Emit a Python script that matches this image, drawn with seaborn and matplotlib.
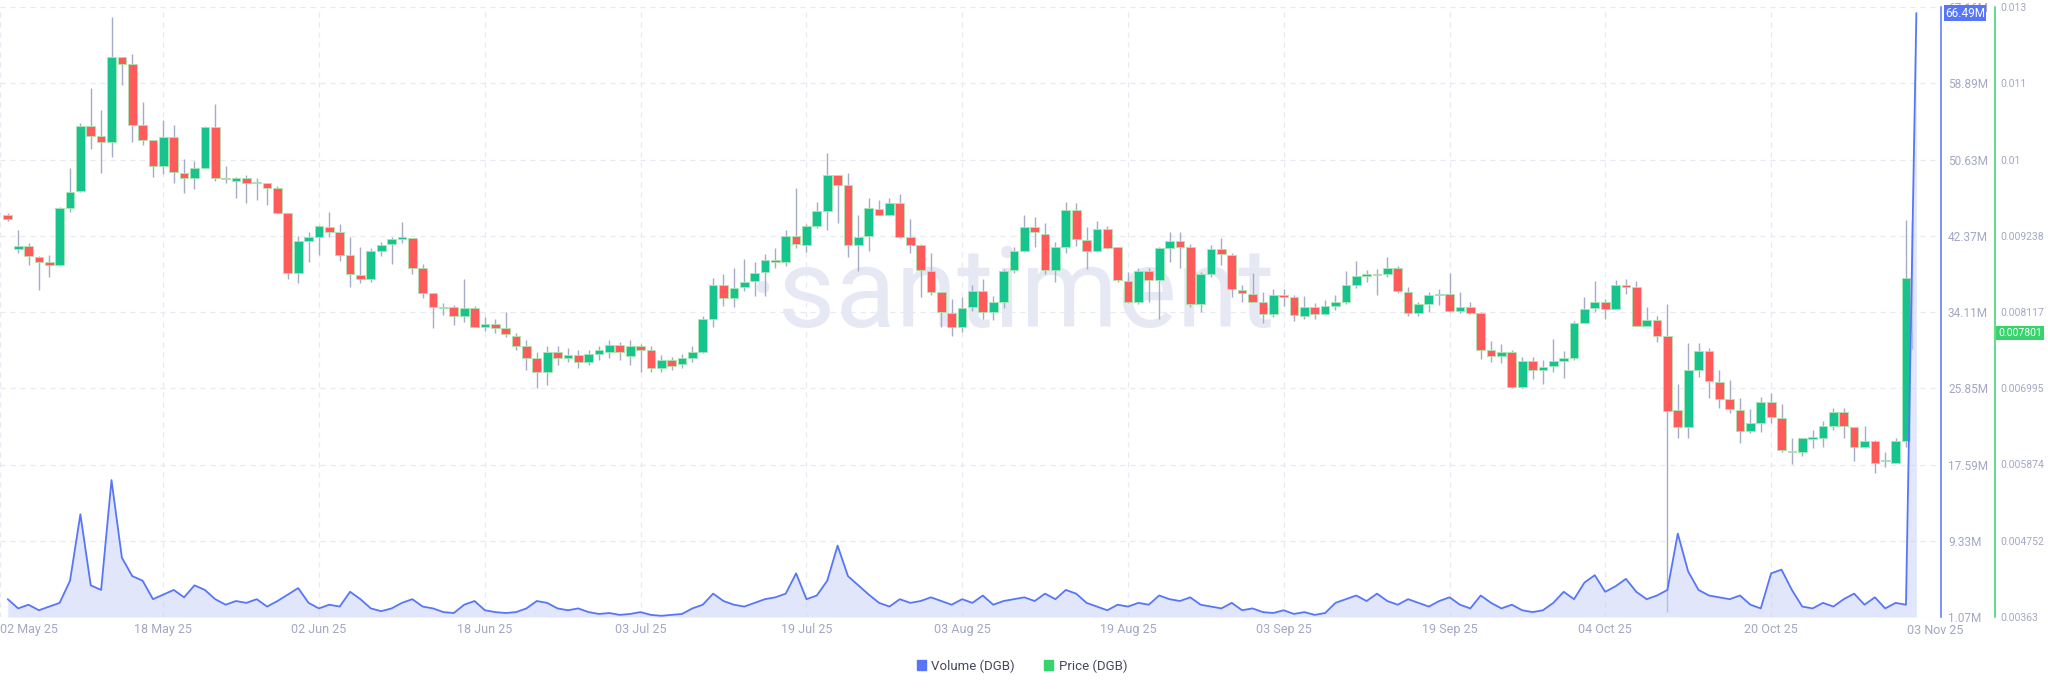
import numpy as np
import pandas as pd
import matplotlib
matplotlib.use("Agg")
import matplotlib.pyplot as plt
import matplotlib.dates as mdates
from matplotlib.patches import Patch
import seaborn as sns

# ------------------------------------------------------------
# data: DGB daily candles 03 May 25 .. 02 Nov 25, daily volume
# ------------------------------------------------------------
candle_dates = pd.date_range("2025-05-03", "2025-11-02", freq="D")

open_ = [
    0.00954, 0.00904, 0.00908, 0.00892, 0.00885, 0.00880, 0.00964, 0.00989, 0.01085, 0.01071,
    0.01061, 0.01186, 0.01176, 0.01086, 0.01064, 0.01027, 0.01069, 0.01016, 0.01008, 0.01024,
    0.01083, 0.01008, 0.01005, 0.01008, 0.01001, 0.01002, 0.00994, 0.00957, 0.00869, 0.00916,
    0.00922, 0.00936, 0.00929, 0.00895, 0.00866, 0.00860, 0.00901, 0.00911, 0.00919, 0.00920,
    0.00876, 0.00839, 0.00817, 0.00819, 0.00805, 0.00817, 0.00789, 0.00794, 0.00788, 0.00777,
    0.00761, 0.00744, 0.00723, 0.00753, 0.00744, 0.00748, 0.00738, 0.00750, 0.00753, 0.00763,
    0.00747, 0.00761, 0.00755, 0.00729, 0.00741, 0.00735, 0.00744, 0.00753, 0.00802, 0.00852,
    0.00832, 0.00848, 0.00857, 0.00870, 0.00888, 0.00885, 0.00923, 0.00910, 0.00938, 0.00960,
    0.01013, 0.00998, 0.00910, 0.00923, 0.00963, 0.00955, 0.00972, 0.00922, 0.00910, 0.00872,
    0.00841, 0.00810, 0.00789, 0.00819, 0.00842, 0.00811, 0.00827, 0.00873, 0.00901, 0.00936,
    0.00927, 0.00873, 0.00907, 0.00961, 0.00917, 0.00902, 0.00933, 0.00907, 0.00857, 0.00826,
    0.00872, 0.00858, 0.00905, 0.00916, 0.00907, 0.00823, 0.00867, 0.00904, 0.00895, 0.00844,
    0.00838, 0.00826, 0.00808, 0.00836, 0.00833, 0.00805, 0.00819, 0.00808, 0.00820, 0.00826,
    0.00851, 0.00864, 0.00867, 0.00867, 0.00877, 0.00841, 0.00810, 0.00823, 0.00836, 0.00838,
    0.00813, 0.00819, 0.00810, 0.00755, 0.00747, 0.00753, 0.00701, 0.00739, 0.00726, 0.00732,
    0.00739, 0.00744, 0.00795, 0.00817, 0.00826, 0.00816, 0.00852, 0.00848, 0.00791, 0.00800,
    0.00777, 0.00667, 0.00642, 0.00727, 0.00754, 0.00708, 0.00683, 0.00667, 0.00636, 0.00648,
    0.00679, 0.00655, 0.00607, 0.00605, 0.00625, 0.00626, 0.00644, 0.00664, 0.00642, 0.00613,
    0.00622, 0.00592, 0.00589, 0.00622,
]
high = [
    0.00957, 0.00932, 0.00913, 0.00894, 0.00895, 0.00966, 0.01024, 0.01089, 0.01141, 0.01108,
    0.01246, 0.01186, 0.01191, 0.01120, 0.01064, 0.01094, 0.01086, 0.01036, 0.01033, 0.01085,
    0.01117, 0.01026, 0.01010, 0.01013, 0.01008, 0.01002, 0.00997, 0.00957, 0.00923, 0.00930,
    0.00939, 0.00958, 0.00941, 0.00922, 0.00907, 0.00905, 0.00914, 0.00922, 0.00944, 0.00920,
    0.00882, 0.00839, 0.00825, 0.00822, 0.00860, 0.00820, 0.00804, 0.00801, 0.00811, 0.00780,
    0.00770, 0.00753, 0.00761, 0.00761, 0.00758, 0.00755, 0.00755, 0.00761, 0.00770, 0.00767,
    0.00770, 0.00764, 0.00761, 0.00748, 0.00745, 0.00750, 0.00761, 0.00805, 0.00861, 0.00867,
    0.00877, 0.00889, 0.00885, 0.00897, 0.00905, 0.00932, 0.00994, 0.00941, 0.00974, 0.01045,
    0.01013, 0.01016, 0.00955, 0.00980, 0.00977, 0.00980, 0.00985, 0.00948, 0.00911, 0.00898,
    0.00841, 0.00830, 0.00833, 0.00851, 0.00860, 0.00835, 0.00875, 0.00907, 0.00955, 0.00952,
    0.00942, 0.00914, 0.00974, 0.00972, 0.00936, 0.00945, 0.00938, 0.00907, 0.00870, 0.00877,
    0.00877, 0.00907, 0.00929, 0.00929, 0.00911, 0.00870, 0.00910, 0.00920, 0.00898, 0.00851,
    0.00869, 0.00841, 0.00845, 0.00845, 0.00836, 0.00835, 0.00825, 0.00829, 0.00836, 0.00872,
    0.00886, 0.00873, 0.00875, 0.00892, 0.00879, 0.00848, 0.00827, 0.00841, 0.00845, 0.00869,
    0.00841, 0.00827, 0.00811, 0.00769, 0.00764, 0.00755, 0.00745, 0.00745, 0.00741, 0.00772,
    0.00754, 0.00798, 0.00833, 0.00857, 0.00830, 0.00858, 0.00860, 0.00857, 0.00819, 0.00805,
    0.00823, 0.00705, 0.00766, 0.00766, 0.00758, 0.00726, 0.00711, 0.00685, 0.00669, 0.00686,
    0.00692, 0.00676, 0.00627, 0.00626, 0.00638, 0.00651, 0.00670, 0.00670, 0.00642, 0.00644,
    0.00623, 0.00605, 0.00627, 0.00947,
]
low = [
    0.00945, 0.00898, 0.00880, 0.00844, 0.00863, 0.00879, 0.00958, 0.00988, 0.01051, 0.01016,
    0.01039, 0.01145, 0.01061, 0.01057, 0.01010, 0.01014, 0.01001, 0.00986, 0.00992, 0.01024,
    0.01004, 0.01002, 0.00980, 0.00972, 0.00977, 0.00969, 0.00957, 0.00860, 0.00854, 0.00885,
    0.00895, 0.00922, 0.00886, 0.00848, 0.00854, 0.00855, 0.00894, 0.00882, 0.00913, 0.00867,
    0.00832, 0.00788, 0.00807, 0.00792, 0.00797, 0.00789, 0.00783, 0.00780, 0.00775, 0.00755,
    0.00726, 0.00700, 0.00704, 0.00733, 0.00738, 0.00729, 0.00733, 0.00741, 0.00744, 0.00741,
    0.00733, 0.00723, 0.00723, 0.00723, 0.00726, 0.00729, 0.00738, 0.00751, 0.00789, 0.00820,
    0.00819, 0.00842, 0.00835, 0.00835, 0.00877, 0.00879, 0.00905, 0.00900, 0.00935, 0.00932,
    0.00942, 0.00892, 0.00872, 0.00901, 0.00954, 0.00954, 0.00920, 0.00898, 0.00833, 0.00836,
    0.00789, 0.00777, 0.00782, 0.00813, 0.00802, 0.00800, 0.00817, 0.00869, 0.00900, 0.00907,
    0.00867, 0.00855, 0.00898, 0.00908, 0.00875, 0.00900, 0.00904, 0.00855, 0.00825, 0.00823,
    0.00827, 0.00802, 0.00885, 0.00876, 0.00819, 0.00811, 0.00863, 0.00880, 0.00833, 0.00827,
    0.00826, 0.00795, 0.00804, 0.00820, 0.00798, 0.00801, 0.00802, 0.00807, 0.00814, 0.00823,
    0.00847, 0.00855, 0.00836, 0.00863, 0.00839, 0.00805, 0.00805, 0.00811, 0.00822, 0.00811,
    0.00810, 0.00808, 0.00742, 0.00738, 0.00736, 0.00700, 0.00700, 0.00713, 0.00705, 0.00723,
    0.00714, 0.00741, 0.00795, 0.00811, 0.00802, 0.00816, 0.00838, 0.00791, 0.00791, 0.00767,
    0.00370, 0.00627, 0.00627, 0.00716, 0.00685, 0.00670, 0.00663, 0.00619, 0.00633, 0.00635,
    0.00648, 0.00605, 0.00588, 0.00600, 0.00611, 0.00613, 0.00638, 0.00626, 0.00592, 0.00611,
    0.00575, 0.00583, 0.00589, 0.00613,
]
close = [
    0.00948, 0.00908, 0.00894, 0.00885, 0.00880, 0.00964, 0.00988, 0.01085, 0.01071, 0.01061,
    0.01186, 0.01177, 0.01086, 0.01064, 0.01027, 0.01069, 0.01017, 0.01008, 0.01024, 0.01083,
    0.01008, 0.01007, 0.01008, 0.01002, 0.01002, 0.00994, 0.00957, 0.00869, 0.00916, 0.00922,
    0.00938, 0.00929, 0.00895, 0.00867, 0.00860, 0.00901, 0.00910, 0.00919, 0.00920, 0.00876,
    0.00839, 0.00819, 0.00819, 0.00805, 0.00817, 0.00789, 0.00794, 0.00788, 0.00779, 0.00761,
    0.00744, 0.00723, 0.00753, 0.00744, 0.00748, 0.00738, 0.00750, 0.00755, 0.00763, 0.00753,
    0.00761, 0.00755, 0.00729, 0.00741, 0.00732, 0.00744, 0.00753, 0.00802, 0.00852, 0.00832,
    0.00847, 0.00855, 0.00869, 0.00888, 0.00885, 0.00923, 0.00911, 0.00938, 0.00960, 0.01013,
    0.00999, 0.00910, 0.00922, 0.00964, 0.00955, 0.00972, 0.00922, 0.00910, 0.00873, 0.00841,
    0.00811, 0.00789, 0.00817, 0.00842, 0.00811, 0.00827, 0.00872, 0.00901, 0.00936, 0.00929,
    0.00873, 0.00907, 0.00961, 0.00919, 0.00902, 0.00933, 0.00905, 0.00858, 0.00826, 0.00872,
    0.00858, 0.00905, 0.00916, 0.00907, 0.00823, 0.00867, 0.00904, 0.00897, 0.00845, 0.00839,
    0.00827, 0.00808, 0.00836, 0.00833, 0.00807, 0.00819, 0.00808, 0.00820, 0.00826, 0.00851,
    0.00864, 0.00867, 0.00866, 0.00877, 0.00842, 0.00810, 0.00823, 0.00836, 0.00838, 0.00813,
    0.00819, 0.00810, 0.00755, 0.00747, 0.00753, 0.00701, 0.00739, 0.00727, 0.00730, 0.00739,
    0.00744, 0.00795, 0.00816, 0.00826, 0.00816, 0.00852, 0.00848, 0.00791, 0.00800, 0.00777,
    0.00666, 0.00642, 0.00727, 0.00754, 0.00710, 0.00683, 0.00669, 0.00636, 0.00648, 0.00679,
    0.00657, 0.00608, 0.00605, 0.00626, 0.00626, 0.00644, 0.00664, 0.00644, 0.00613, 0.00622,
    0.00589, 0.00594, 0.00622, 0.00861,
]

# unfinished candle of the current day
live_time = pd.Timestamp("2025-11-02 13:00")
live_ohlc = [0.00861, 0.00947, 0.00757, 0.007801]

# daily volume in millions, 03 May 25 .. 03 Nov 25
volume_dates = pd.date_range("2025-05-03", "2025-11-03", freq="D")
volume = [
    3.0, 2.0, 2.4, 1.8, 2.2, 2.6, 5.0, 12.2, 4.5, 4.0,
    15.9, 7.5, 5.5, 5.0, 3.0, 3.5, 4.0, 3.2, 4.5, 4.0,
    3.0, 2.4, 2.8, 2.6, 3.0, 2.2, 2.8, 3.5, 4.2, 2.6,
    2.0, 2.4, 2.2, 3.8, 3.0, 2.0, 1.7, 2.0, 2.6, 3.0,
    2.2, 2.0, 1.6, 1.5, 2.4, 2.8, 1.8, 1.6, 1.5, 1.6,
    2.0, 2.8, 2.6, 2.0, 1.8, 2.0, 1.6, 1.4, 1.5, 1.3,
    1.4, 1.6, 1.3, 1.2, 1.3, 1.4, 2.0, 2.4, 3.6, 2.8,
    2.4, 2.2, 2.6, 3.0, 3.2, 3.6, 5.8, 3.0, 3.4, 5.0,
    8.8, 5.5, 4.5, 3.5, 2.6, 2.2, 3.0, 2.6, 2.8, 3.2,
    2.8, 2.4, 3.0, 2.6, 3.4, 2.4, 2.8, 3.0, 3.2, 2.8,
    3.6, 3.0, 4.0, 3.6, 2.6, 2.2, 1.8, 2.4, 2.2, 2.6,
    2.4, 3.4, 3.0, 2.8, 3.2, 2.4, 2.2, 2.0, 2.6, 1.8,
    2.0, 1.6, 1.5, 1.8, 1.4, 1.6, 1.3, 1.5, 2.6, 3.0,
    3.4, 2.8, 3.6, 2.8, 2.4, 3.0, 2.6, 2.2, 2.8, 3.2,
    2.4, 2.0, 3.4, 2.6, 2.0, 2.4, 1.8, 1.6, 1.8, 2.6,
    3.8, 3.0, 4.8, 5.6, 3.8, 4.4, 5.2, 3.8, 3.0, 3.4,
    4.0, 10.1, 6.0, 4.0, 3.4, 3.2, 3.0, 3.4, 2.4, 2.0,
    5.8, 6.2, 4.0, 2.2, 2.0, 2.6, 2.2, 3.0, 3.6, 2.4,
    3.2, 2.0, 2.6, 2.4, 66.49,
]

price_ticks = [0.00363, 0.0047515, 0.005873, 0.0069945, 0.008116, 0.0092375, 0.010359, 0.0114805, 0.012602]
price_labels = ["0.00363", "0.004752", "0.005874", "0.006995", "0.008117", "0.009238", "0.01", "0.011", "0.013"]
volume_ticks = [1.07, 9.33, 17.59, 25.85, 34.11, 42.37, 50.63, 58.89, 67.15]
volume_labels = ["1.07M", "9.33M", "17.59M", "25.85M", "34.11M", "42.37M", "50.63M", "58.89M", "67.16M"]
date_ticks = ["2025-05-18", "2025-06-02", "2025-06-18", "2025-07-03", "2025-07-19", "2025-08-03",
              "2025-08-19", "2025-09-03", "2025-09-19", "2025-10-04", "2025-10-20"]
date_labels = ["18 May 25", "02 Jun 25", "18 Jun 25", "03 Jul 25", "19 Jul 25", "03 Aug 25",
               "19 Aug 25", "03 Sep 25", "19 Sep 25", "04 Oct 25", "20 Oct 25"]
last_price = 0.007801
last_volume = 66.49

# ------------------------------------------------------------
# style
# ------------------------------------------------------------
sns.set_theme(style="white")
plt.rcParams["font.family"] = ["Roboto", "DejaVu Sans"]

GREEN = "#17c48e"
RED = "#ff5b5b"
EDGE = "#a9e6b3"
WICK = "#a6abc8"
BLUE = "#5776f7"
LINE_GREEN = "#37d36b"
TICK = "#a3a8c3"
GRID = "#e7e9f2"

fig = plt.figure(figsize=(20.48, 6.93), dpi=100)
ax = fig.add_axes([0, 76 / 693, 1941 / 2048, 610 / 693])
ax_vol = ax.twinx()

x0 = mdates.date2num(pd.Timestamp("2025-05-02 06:00"))
x1 = mdates.date2num(pd.Timestamp("2025-11-05 09:00"))

# ---- candles ----
cx = mdates.date2num(candle_dates)
o = np.array(open_)
h = np.array(high)
l = np.array(low)
c = np.array(close)
up = c >= o
body_lo = np.minimum(o, c)
body_h = np.maximum(np.abs(c - o), 2.2e-5)

ax.vlines(cx, l, h, color=WICK, lw=1.0, zorder=2)
ax.bar(cx, body_h, bottom=body_lo, width=0.84, color=np.where(up, GREEN, RED),
       edgecolor=EDGE, linewidth=0.6, zorder=3)

lx = mdates.date2num(live_time)
ax.vlines(lx, live_ohlc[2], live_ohlc[1], color=WICK, lw=1.0, zorder=2)
ax.bar(lx, live_ohlc[0] - live_ohlc[3], bottom=live_ohlc[3], width=0.25,
       color="#b8c8bb", edgecolor="none", zorder=3)

# ---- volume ----
vx = mdates.date2num(volume_dates)
ax_vol.fill_between(vx, volume, 1.07, color="#c5cff9", alpha=0.5, lw=0, zorder=1)
sns.lineplot(x=vx, y=volume, ax=ax_vol, color=BLUE, lw=1.3, zorder=4)
ax_vol.set_xlabel("")
ax_vol.set_ylabel("")

# ---- axes limits / ticks ----
ax.set_xlim(x0, x1)
ax.set_ylim(price_ticks[0], price_ticks[-1])
ax_vol.set_ylim(volume_ticks[0], volume_ticks[-1])

ax.yaxis.tick_right()
ax.set_yticks(price_ticks, labels=price_labels)
ax_vol.set_yticks(volume_ticks, labels=volume_labels)

xt = [x0] + list(mdates.date2num(pd.to_datetime(date_ticks)))
ax.set_xticks(xt, labels=["02 May 25"] + date_labels)

for a in (ax, ax_vol):
    for s in a.spines.values():
        s.set_visible(False)
    a.tick_params(length=0, labelcolor=TICK)

ax.tick_params(axis="x", pad=4, labelsize=9)
ax.tick_params(axis="y", pad=4, labelsize=7.5)
ax_vol.tick_params(axis="y", pad=5, labelsize=8.5)
ax.spines["right"].set_visible(True)
ax.spines["right"].set_position(("outward", 54 * 0.72))
ax.spines["right"].set_color(LINE_GREEN)
ax.spines["right"].set_linewidth(1.1)
ax_vol.spines["right"].set_visible(True)
ax_vol.spines["right"].set_color(BLUE)
ax_vol.spines["right"].set_linewidth(1.1)

# first x label kept inside the frame, as the source does
ax.get_xticklabels()[0].set_horizontalalignment("left")

ax.set_axisbelow(True)
ax.grid(True, color=GRID, lw=0.9, linestyle=(0, (4, 4)))

ax.text(1935 / 1941, -13 / 610, "03 Nov 25", transform=ax.transAxes, ha="center", va="center",
        fontsize=9, color=TICK)

# watermark
ax.text(0.521, 0.525, "·santiment", transform=ax.transAxes, ha="center", va="center",
        fontsize=80, color="#e6e8f3", zorder=0.6)

# last-value boxes
ax_vol.annotate("66.49M", xy=(1, last_volume), xycoords=("axes fraction", "data"),
                xytext=(4, 0), textcoords="offset pixels", ha="left", va="center",
                fontsize=8.5, color="white", annotation_clip=False, zorder=10,
                bbox=dict(boxstyle="square,pad=0.12", fc=BLUE, ec="none"))
ax.annotate("0.007801", xy=(1, last_price), xycoords=("axes fraction", "data"),
            xytext=(57, 0), textcoords="offset pixels", ha="left", va="center",
            fontsize=7.5, color="white", annotation_clip=False, zorder=10,
            bbox=dict(boxstyle="square,pad=0.2", fc=LINE_GREEN, ec="none"))

# legend
handles = [Patch(color=BLUE, label="Volume (DGB)"), Patch(color=LINE_GREEN, label="Price (DGB)")]
fig.legend(handles=handles, loc="center", bbox_to_anchor=(1022 / 2048, 1 - 666 / 693), ncol=2,
           frameon=False, fontsize=9.5, handlelength=0.7, handleheight=0.7, handletextpad=0.4,
           columnspacing=2.2, labelcolor="#45495c")

fig.savefig("out.png", dpi=100)
